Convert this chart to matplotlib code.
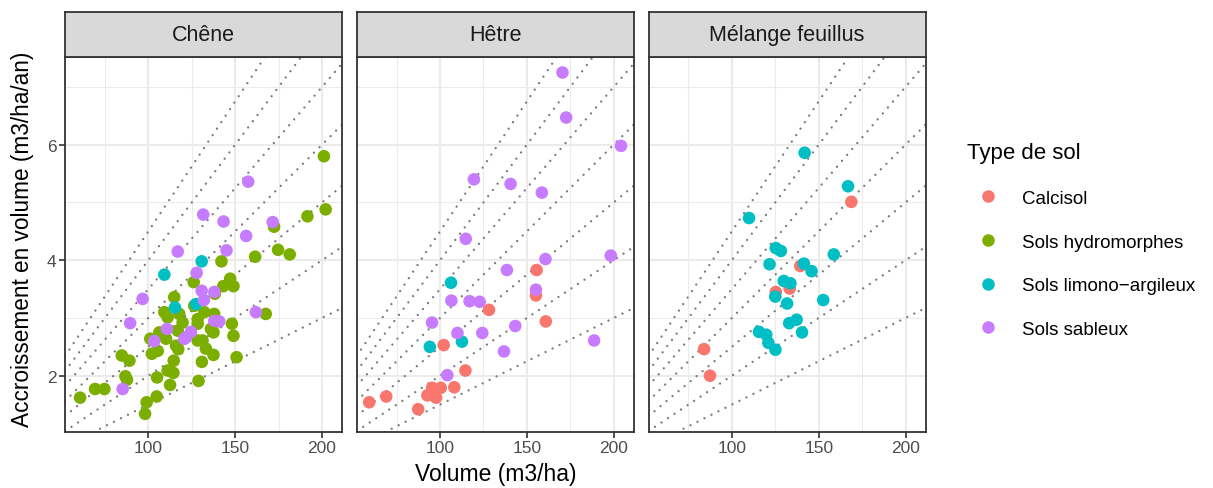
import numpy as np
import matplotlib
matplotlib.use("Agg")
import matplotlib.pyplot as plt
from matplotlib.lines import Line2D

plt.rcParams['font.family'] = ['Liberation Sans', 'DejaVu Sans']

# données : (volume m3/ha, accroissement m3/ha/an)
sols = ["Calcisol", "Sols hydromorphes", "Sols limono-argileux", "Sols sableux"]
couleurs = ["#F8766D", "#7CAE00", "#00BFC4", "#C77CFF"]
essences = ["Chêne", "Hêtre", "Mélange feuillus"]

chene_hydro_x = [201.1, 202.1, 191.6, 172.4, 174.7, 181.4, 161.5, 142.1, 147.1, 149.0,
                 143.1, 138.3, 126.1, 114.9, 109.2, 111.1, 117.8, 119.7, 126.4, 132.2,
                 137.9, 128.4, 128.4, 116.9, 106.3, 101.1, 110.2, 136.0, 137.5, 148.1,
                 149.0, 128.4, 131.2, 115.9, 117.2, 133.1, 137.5, 105.4, 102.0, 84.7,
                 89.1, 114.6, 130.8, 150.8, 86.8, 87.7, 105.0, 111.1, 114.4, 112.5,
                 128.9, 74.7, 69.3, 60.7, 104.8, 99.0, 98.1, 167.6]
chene_hydro_y = [5.80, 4.88, 4.76, 4.58, 4.18, 4.10, 4.06, 3.98, 3.68, 3.55,
                 3.55, 3.42, 3.62, 3.36, 3.10, 3.01, 3.07, 2.92, 3.21, 3.10,
                 3.07, 2.98, 2.90, 2.78, 2.75, 2.64, 2.64, 2.81, 2.75, 2.90,
                 2.69, 2.61, 2.61, 2.52, 2.46, 2.47, 2.36, 2.43, 2.38, 2.35,
                 2.26, 2.26, 2.24, 2.32, 1.99, 1.93, 1.97, 2.09, 2.05, 1.84,
                 1.91, 1.77, 1.77, 1.62, 1.64, 1.54, 1.34, 3.07]
chene_sable_x = [157.5, 131.6, 143.3, 171.6, 156.3, 145.0, 116.9, 127.8, 96.7, 130.7,
                 132.0, 138.0, 138.0, 140.8, 89.5, 110.7, 124.5, 121.6, 120.7, 103.4,
                 161.9, 85.2]
chene_sable_y = [5.36, 4.79, 4.67, 4.66, 4.42, 4.17, 4.15, 3.78, 3.33, 3.47,
                 3.31, 3.45, 2.95, 2.94, 2.91, 2.81, 2.76, 2.66, 2.64, 2.60,
                 3.10, 1.77]
chene_limon_x = [130.7, 109.2, 115.3, 127.4]
chene_limon_y = [3.98, 3.75, 3.18, 3.24]

hetre_sable_x = [170.5, 172.6, 204.2, 119.5, 140.6, 158.6, 114.8, 160.7, 198.3, 138.5,
                 155.2, 106.5, 117.0, 122.8, 95.4, 110.0, 124.3, 143.3, 136.8, 188.7,
                 104.2]
hetre_sable_y = [7.25, 6.47, 5.98, 5.40, 5.32, 5.17, 4.37, 4.02, 4.08, 3.83,
                 3.49, 3.30, 3.29, 3.28, 2.92, 2.74, 2.74, 2.86, 2.42, 2.61,
                 2.01]
hetre_calci_x = [155.6, 155.2, 128.2, 160.9, 102.1, 114.6, 95.4, 100.4, 108.2, 92.7,
                 97.7, 69.0, 59.2, 87.4]
hetre_calci_y = [3.83, 3.39, 3.14, 2.94, 2.53, 2.09, 1.79, 1.79, 1.80, 1.66,
                 1.62, 1.64, 1.54, 1.42]
hetre_limon_x = [106.3, 94.1, 112.6]
hetre_limon_y = [3.61, 2.50, 2.59]

melange_limon_x = [141.9, 166.9, 109.9, 125.3, 128.2, 158.7, 121.7, 141.5, 145.9, 129.9,
                   133.7, 125.0, 131.8, 152.6, 133.0, 137.3, 140.4, 115.6, 119.8, 121.0,
                   125.1]
melange_limon_y = [5.86, 5.28, 4.73, 4.21, 4.16, 4.10, 3.93, 3.94, 3.81, 3.64,
                   3.60, 3.37, 3.25, 3.31, 2.91, 2.97, 2.75, 2.76, 2.71, 2.57,
                   2.45]
melange_calci_x = [168.8, 139.4, 133.3, 125.3, 84.0, 87.4]
melange_calci_y = [5.01, 3.90, 3.51, 3.45, 2.46, 2.00]

# taux d'accroissement (droites passant par l'origine)
taux = [0.015, 0.02, 0.025, 0.03, 0.035, 0.04, 0.045]

donnees = {
    "Chêne": [("Sols hydromorphes", chene_hydro_x, chene_hydro_y),
              ("Sols limono-argileux", chene_limon_x, chene_limon_y),
              ("Sols sableux", chene_sable_x, chene_sable_y)],
    "Hêtre": [("Calcisol", hetre_calci_x, hetre_calci_y),
              ("Sols limono-argileux", hetre_limon_x, hetre_limon_y),
              ("Sols sableux", hetre_sable_x, hetre_sable_y)],
    "Mélange feuillus": [("Calcisol", melange_calci_x, melange_calci_y),
                         ("Sols limono-argileux", melange_limon_x, melange_limon_y)],
}
coul = dict(zip(sols, couleurs))

W, H = 1213, 489
fig = plt.figure(figsize=(W / 100, H / 100), dpi=100)

lefts = [65, 356.7, 648.5]
pw = 277
top, bot = 57.5, 432.5
strip_top = 13.3
xlim = (52.0, 211.5)
ylim = (1.034, 7.527)
xx = np.linspace(xlim[0], xlim[1], 2)

for i, (ess, left) in enumerate(zip(essences, lefts)):
    ax = fig.add_axes([left / W, (H - bot) / H, pw / W, (bot - top) / H])
    ax.set_xlim(xlim)
    ax.set_ylim(ylim)
    ax.set_xticks([100, 150, 200])
    ax.set_xticks([75, 125, 175], minor=True)
    ax.set_yticks([2, 4, 6])
    ax.set_yticks([3, 5, 7], minor=True)
    ax.grid(True, which='major', color='#EBEBEB', linewidth=1.5)
    ax.grid(True, which='minor', color='#EBEBEB', linewidth=0.75)
    ax.set_axisbelow(True)
    for r in taux:
        ax.plot(xx, r * xx, linestyle=(0, (0.01, 3.3)), color='#7A7A7A',
                linewidth=1.7, dash_capstyle='round', zorder=2)
    for sol, x, y in donnees[ess]:
        ax.scatter(x, y, s=82, color=coul[sol], edgecolors='none', zorder=3)
    for sp in ax.spines.values():
        sp.set_color('#333333')
        sp.set_linewidth(1.3)
    ax.tick_params(which='major', length=4, width=1.2, color='#333333',
                   labelsize=12.5, labelcolor='#4D4D4D', pad=2)
    ax.tick_params(which='minor', length=0)
    if i > 0:
        ax.tick_params(axis='y', which='both', length=0, labelleft=False)

    sax = fig.add_axes([left / W, (H - top) / H, pw / W, (top - strip_top) / H])
    sax.set_facecolor('#D9D9D9')
    sax.set_xticks([])
    sax.set_yticks([])
    for sp in sax.spines.values():
        sp.set_color('#333333')
        sp.set_linewidth(1.3)
    sax.text(0.5, 0.5, ess, ha='center', va='center', fontsize=15.5,
             color='#1A1A1A', transform=sax.transAxes)

fig.text((lefts[0] + lefts[2] + pw) / 2 / W, 3 / H, "Volume (m3/ha)",
         ha='center', va='bottom', fontsize=16.5)
fig.text(11 / W, (H - (top + bot) / 2 + 6) / H, "Accroissement en volume (m3/ha/an)",
         rotation=90, ha='left', va='center', fontsize=16.3)

handles = [Line2D([], [], marker='o', linestyle='none', markersize=9,
                  markerfacecolor=c, markeredgecolor='none') for c in couleurs]
labels = [s.replace('-', '\u2212') for s in sols]
leg = fig.legend(handles, labels, title="Type de sol", loc='upper left',
                 bbox_to_anchor=(967 / W, (H - 143) / H), frameon=False,
                 fontsize=13.5, title_fontsize=16, labelspacing=1.42,
                 handletextpad=0.75, handlelength=2.2, borderaxespad=0,
                 borderpad=0)
leg._legend_box.align = "left"

fig.savefig("out.png", dpi=100)
